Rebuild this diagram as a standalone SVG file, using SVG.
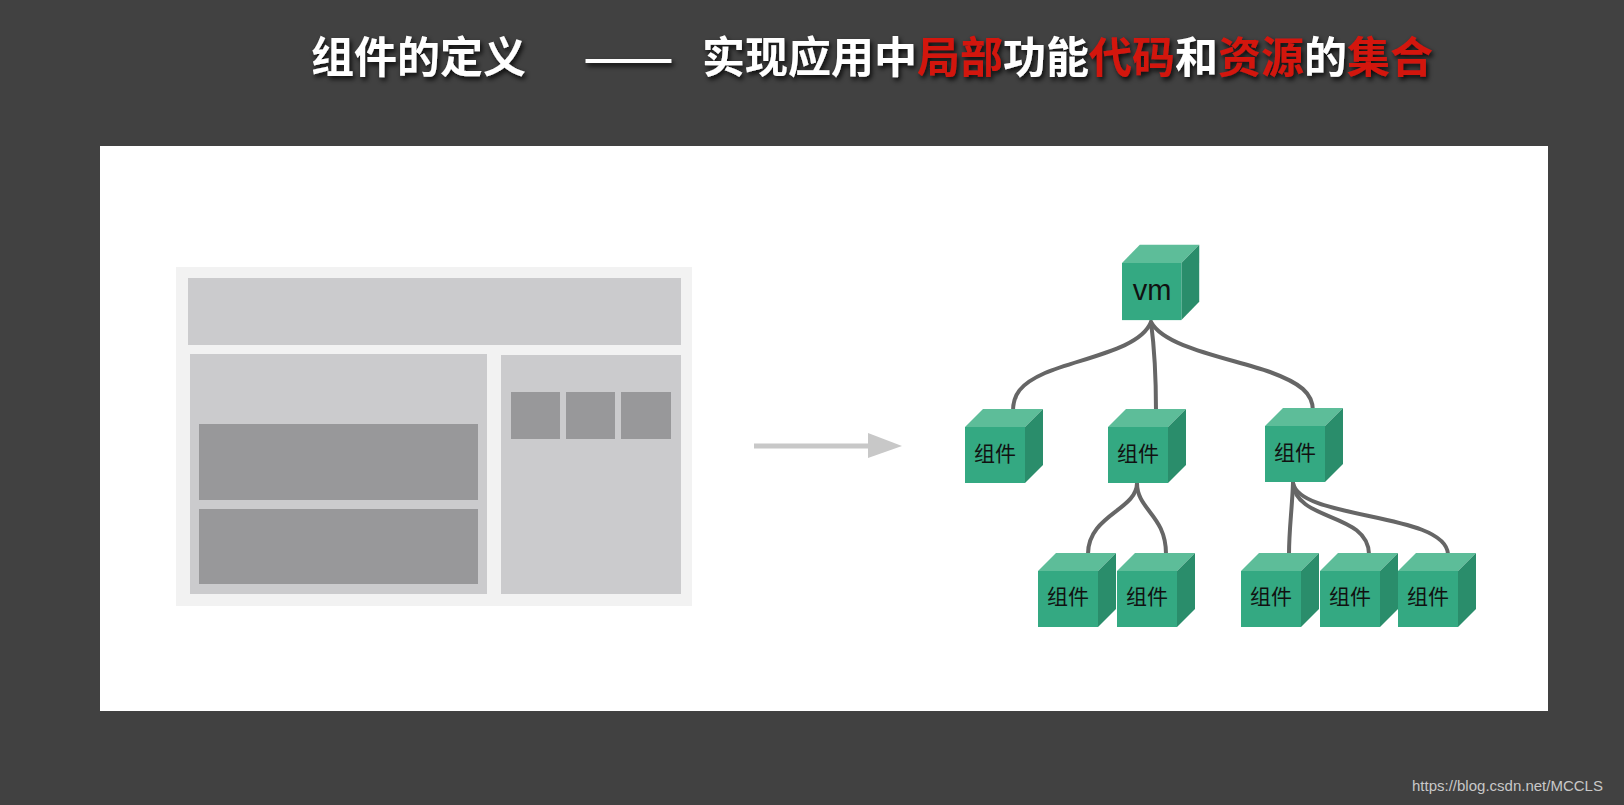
<svg xmlns="http://www.w3.org/2000/svg" width="1624" height="805" viewBox="0 0 1624 805">
<defs>
<filter id="sh" x="-10%" y="-30%" width="120%" height="160%">
<feDropShadow dx="2" dy="3" stdDeviation="2.5" flood-color="#000" flood-opacity="0.85"/>
</filter>
<g id="cube">
<polygon class="top" points="0,0 18,-18 78,-18 60,0"/>
<polygon class="side" points="60,0 78,-18 78,38 60,56"/>
<rect class="front" x="0" y="0" width="60" height="56"/>
</g>
</defs>
<style>
.title{font-family:"Noto Sans CJK SC","Noto Sans",sans-serif;font-weight:bold;font-size:43px;fill:#ffffff}
.red{fill:#d3150f}
.front{fill:#34a982}
.top{fill:#5dbd99}
.side{fill:#2a8d6b}
.lbl{font-family:"Noto Sans CJK SC","Noto Sans",sans-serif;font-size:21px;fill:#111;text-anchor:middle}
.vm{font-family:"Liberation Sans",Arial,sans-serif;font-size:29px;fill:#111;text-anchor:middle}
.conn{fill:none;stroke:#666;stroke-width:4;stroke-linecap:round}
.l1{fill:#f2f2f2}
.l2{fill:#cbcbcd}
.l3{fill:#98989a}
</style>
<rect x="0" y="0" width="1624" height="805" fill="#414141"/>
<g id="title" filter="url(#sh)">
<text class="title" x="311" y="73">组件的定义</text>
<text class="title" x="583" y="73" textLength="91" lengthAdjust="spacingAndGlyphs">——</text>
<text class="title" x="702" y="73">实现应用中<tspan class="red">局部</tspan>功能<tspan class="red">代码</tspan>和<tspan class="red">资源</tspan>的<tspan class="red">集合</tspan></text>
</g>
<rect id="panel" x="100" y="146" width="1448" height="565" fill="#ffffff"/>
<g id="mockup">
<rect class="l1" x="176" y="267" width="516" height="339"/>
<rect class="l2" x="188" y="278" width="493" height="67"/>
<rect class="l2" x="190" y="354" width="297" height="240"/>
<rect class="l2" x="501" y="355" width="180" height="239"/>
<rect class="l3" x="199" y="424" width="279" height="76"/>
<rect class="l3" x="199" y="509" width="279" height="75"/>
<rect class="l3" x="511" y="392" width="49" height="47"/>
<rect class="l3" x="566" y="392" width="49" height="47"/>
<rect class="l3" x="621" y="392" width="50" height="47"/>
</g>
<g id="arrow">
<line x1="754" y1="446" x2="870" y2="446" stroke="#c8c8c8" stroke-width="5"/>
<polygon points="868,433 902,446 868,458" fill="#c8c8c8"/>
</g>
<g id="connectors">
<path class="conn" d="M1151,322 C1140,350 1080,358 1045,373 C1020,384 1013,395 1013,411"/>
<path class="conn" d="M1151,322 C1154,345 1156,380 1156,411"/>
<path class="conn" d="M1151,322 C1165,348 1230,358 1270,372 C1300,383 1313,393 1313,411"/>
<path class="conn" d="M1137,483 C1137,510 1088,515 1088,554"/>
<path class="conn" d="M1137,483 C1137,510 1166,515 1166,554"/>
<path class="conn" d="M1293,483 C1292,510 1289,530 1289,554"/>
<path class="conn" d="M1293,483 C1296,522 1368,512 1369,554"/>
<path class="conn" d="M1293,483 C1300,520 1445,512 1448,554"/>
</g>
<g id="vm"><use href="#cube" transform="translate(1122,263) scale(0.99,1.02)"/><text class="vm" x="1152" y="300">vm</text></g>
<g id="c1"><use href="#cube" x="965" y="427"/><text class="lbl" x="995" y="461">组件</text></g>
<g id="c2"><use href="#cube" x="1108" y="427"/><text class="lbl" x="1138" y="461">组件</text></g>
<g id="c3"><use href="#cube" x="1265" y="426"/><text class="lbl" x="1295" y="460">组件</text></g>
<g id="c4"><use href="#cube" x="1038" y="571"/><text class="lbl" x="1068" y="604">组件</text></g>
<g id="c5"><use href="#cube" x="1117" y="571"/><text class="lbl" x="1147" y="604">组件</text></g>
<g id="c6"><use href="#cube" x="1241" y="571"/><text class="lbl" x="1271" y="604">组件</text></g>
<g id="c7"><use href="#cube" x="1320" y="571"/><text class="lbl" x="1350" y="604">组件</text></g>
<g id="c8"><use href="#cube" x="1398" y="571"/><text class="lbl" x="1428" y="604">组件</text></g>
<text x="1412" y="791" font-family="Liberation Sans, Arial, sans-serif" font-size="15" fill="#c8c8c8">https://blog.csdn.net/MCCLS</text>
</svg>
